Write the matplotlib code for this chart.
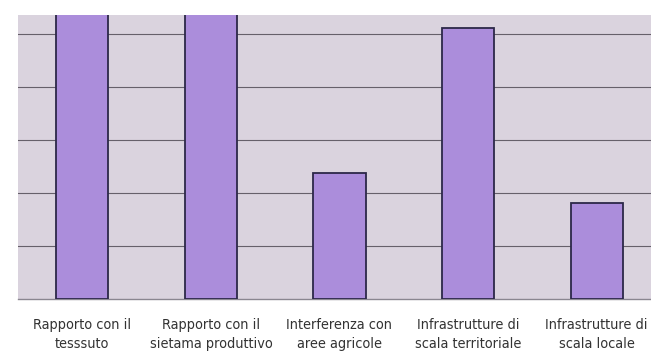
import matplotlib.pyplot as plt

# categories and scores
labels = ['Rapporto con il\ntesssuto',
          'Rapporto con il\nsietama produttivo',
          'Interferenza con\naree agricole',
          'Infrastrutture di\nscala territoriale',
          'Infrastrutture di\nscala locale']
values = [6.0, 6.0, 2.38, 5.11, 1.81]

plt.rcParams['font.family'] = ['DejaVu Sans']
plt.rcParams['font.stretch'] = 'condensed'

fig = plt.figure(figsize=(6.51, 3.53), dpi=100)
# plot area runs off the right edge of the page
ax = fig.add_axes([18 / 651, 1 - 299 / 353, 643 / 651, 284 / 353])
ax.set_facecolor('#dad3de')

x = range(len(values))
ax.bar(x, values, width=0.405, color='#ab8ddb', edgecolor='#2c2848',
       linewidth=1.3, zorder=3)

ax.set_xlim(-0.5, 4.5)
ax.set_ylim(0, 5.36)
ax.set_yticks([1, 2, 3, 4, 5])
ax.yaxis.grid(True, color='#66606a', linewidth=0.8, zorder=1)
ax.tick_params(left=False, labelleft=False, bottom=False)

for s in ['top', 'right', 'left']:
    ax.spines[s].set_visible(False)
ax.spines['bottom'].set_color('#8a8690')
ax.spines['bottom'].set_linewidth(1.0)

ax.set_xticks(list(x))
ax.set_xticklabels(labels, fontsize=10.4, color='#333333', linespacing=1.45)
ax.tick_params(axis='x', pad=10)

fig.savefig('out.png', dpi=100, facecolor='white')
